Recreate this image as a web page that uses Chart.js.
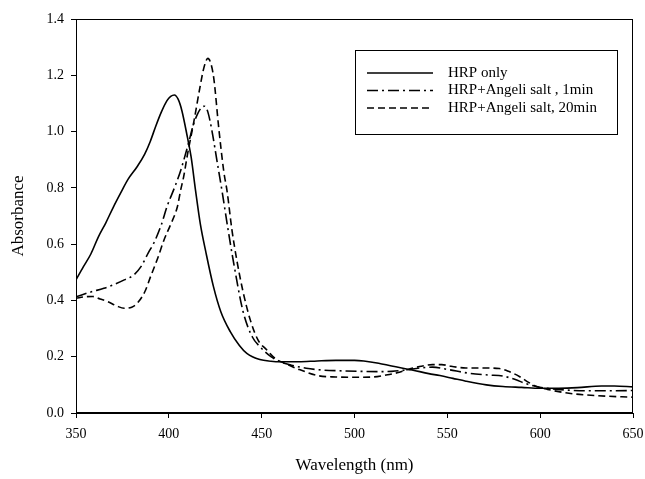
<!DOCTYPE html>
<html>
<head>
<meta charset="utf-8">
<script src="https://cdn.jsdelivr.net/npm/chart.js@4.4.1/dist/chart.umd.min.js"></script>
<style>
  html, body { margin: 0; padding: 0; background: #fff; }
  #wrap { width: 645px; height: 479px; }
</style>
</head>
<body>
<div id="wrap"><canvas id="c" width="645" height="479"></canvas></div>
<script>
// ---- data ----
const seriesLabels = ["HRP only", "HRP+Angeli salt , 1min", "HRP+Angeli salt, 20min"];

const hrpX = [350,354,358,362,366,370,374,378,383,387,390,393,396,399,401,403,405,407,410,412,414.4,417,420,424,428,433,438,442,449,455,460,470,480,490,500,505,513,520,531,540,546,553,560,571,580,590,600,610,620,633,640,650];
const hrpY = [0.473,0.52,0.565,0.625,0.675,0.73,0.781,0.83,0.876,0.92,0.965,1.02,1.07,1.11,1.125,1.13,1.115,1.075,0.98,0.91,0.79,0.67,0.57,0.45,0.36,0.29,0.24,0.212,0.19,0.184,0.182,0.182,0.185,0.187,0.187,0.185,0.177,0.167,0.153,0.14,0.133,0.123,0.113,0.1,0.094,0.091,0.088,0.088,0.09,0.096,0.096,0.093];

const min1X = [350,358,365,370,376,381,385,389,392,396,399,403,406.3,410.8,413,415.3,417.5,419.2,421,423.3,426,428.7,431.7,435,440,445,449,455,460,466,474,482,492,503,513,520,528,535,542,550,562,572,580,587,592,598,603,613,625,640,650];
const min1Y = [0.413,0.43,0.443,0.455,0.473,0.49,0.52,0.57,0.605,0.67,0.733,0.8,0.86,0.964,1.02,1.06,1.085,1.09,1.07,1.0,0.893,0.787,0.66,0.53,0.36,0.27,0.236,0.2,0.182,0.17,0.159,0.153,0.15,0.148,0.147,0.148,0.153,0.16,0.163,0.155,0.141,0.135,0.131,0.118,0.105,0.094,0.088,0.082,0.079,0.079,0.08];

const min20X = [350,355,359,363,367,372,376,380,383,387,390.2,394,397.4,401,404.6,406.3,408,410,413.5,417,419,421,422.5,424.2,426.9,429.6,431.4,434,436.7,440,443.9,448,452.8,458,462,470,481,490,500,510,517,523,528,535,542,547,552,560,570,578,583,589,594,598,604,610,618,625,635,650];
const min20Y = [0.408,0.413,0.414,0.405,0.396,0.38,0.372,0.376,0.39,0.43,0.485,0.55,0.615,0.67,0.733,0.79,0.84,0.917,1.036,1.166,1.23,1.26,1.245,1.19,1.012,0.858,0.787,0.65,0.54,0.43,0.33,0.26,0.224,0.19,0.178,0.155,0.132,0.128,0.127,0.128,0.135,0.143,0.153,0.165,0.172,0.172,0.166,0.16,0.16,0.158,0.148,0.129,0.108,0.094,0.084,0.076,0.068,0.064,0.06,0.056];

const xTicks = [350,400,450,500,550,600,650];
const yTicks = [0.0,0.2,0.4,0.6,0.8,1.0,1.2,1.4];

function pts(xs, ys) { return xs.map((x, i) => ({x: x, y: ys[i]})); }

const FONT = "'Liberation Serif', 'Times New Roman', serif";
const dashes = [[], [11,4,2,4], [7,4]];

const frameAndLegend = {
  id: 'frameAndLegend',
  afterDatasetsDraw(chart) {
    const {ctx, chartArea: a} = chart;
    ctx.save();
    ctx.strokeStyle = '#000';
    ctx.lineWidth = 1;
    ctx.strokeRect(a.left + 0.5, a.top + 0.5, a.right - a.left - 1, a.bottom - a.top - 1);
    // legend box
    const bx = 355, by = 50, bw = 262, bh = 84;
    ctx.fillStyle = '#fff';
    ctx.fillRect(bx, by, bw, bh);
    ctx.strokeRect(bx + 0.5, by + 0.5, bw, bh);
    ctx.font = '15px ' + FONT;
    ctx.textBaseline = 'middle';
    ctx.textAlign = 'left';
    chart.data.datasets.forEach((ds, i) => {
      const y = by + 23 + i * 17.5;
      ctx.beginPath();
      ctx.setLineDash(ds.borderDash || []);
      ctx.lineWidth = ds.borderWidth;
      ctx.strokeStyle = ds.borderColor;
      ctx.moveTo(367, y);
      ctx.lineTo(433, y);
      ctx.stroke();
      ctx.setLineDash([]);
      ctx.fillStyle = '#000';
      ctx.fillText(ds.label, 448, y);
    });
    ctx.restore();
  }
};

new Chart(document.getElementById('c'), {
  type: 'line',
  data: {
    datasets: [
      { label: seriesLabels[0], data: pts(hrpX, hrpY) },
      { label: seriesLabels[1], data: pts(min1X, min1Y) },
      { label: seriesLabels[2], data: pts(min20X, min20Y) }
    ].map((d, i) => Object.assign(d, {
      borderColor: '#000',
      borderWidth: 1.6,
      borderDash: dashes[i],
      pointRadius: 0,
      fill: false,
      cubicInterpolationMode: 'monotone'
    }))
  },
  options: {
    responsive: false,
    animation: false,
    layout: { padding: { top: 19, right: 12, left: 0, bottom: 0 } },
    plugins: { legend: { display: false }, tooltip: { enabled: false } },
    scales: {
      x: {
        type: 'linear',
        min: 350, max: 650,
        afterBuildTicks: (s) => { s.ticks = xTicks.map(v => ({value: v})); },
        afterFit: (s) => { s.height = 66; s.paddingRight = 0; },
        ticks: { color: '#000', font: { family: FONT, size: 14 }, padding: 8, maxRotation: 0 },
        grid: { drawOnChartArea: false, tickLength: 5, color: '#000' },
        border: { color: '#000', width: 1 },
        title: { display: true, text: 'Wavelength (nm)', color: '#000', font: { family: FONT, size: 17 }, padding: { top: 0, bottom: 3 } }
      },
      y: {
        min: 0, max: 1.4,
        afterBuildTicks: (s) => { s.ticks = yTicks.map(v => ({value: v})); },
        afterFit: (s) => { s.width = 76; },
        ticks: { color: '#000', font: { family: FONT, size: 14 }, padding: 7, callback: (v) => Number(v).toFixed(1) },
        grid: { drawOnChartArea: false, tickLength: 5, color: '#000' },
        border: { color: '#000', width: 1 },
        title: { display: true, text: 'Absorbance', color: '#000', font: { family: FONT, size: 17 }, padding: { top: 8, bottom: 0 } }
      }
    }
  },
  plugins: [frameAndLegend]
});
</script>
</body>
</html>
